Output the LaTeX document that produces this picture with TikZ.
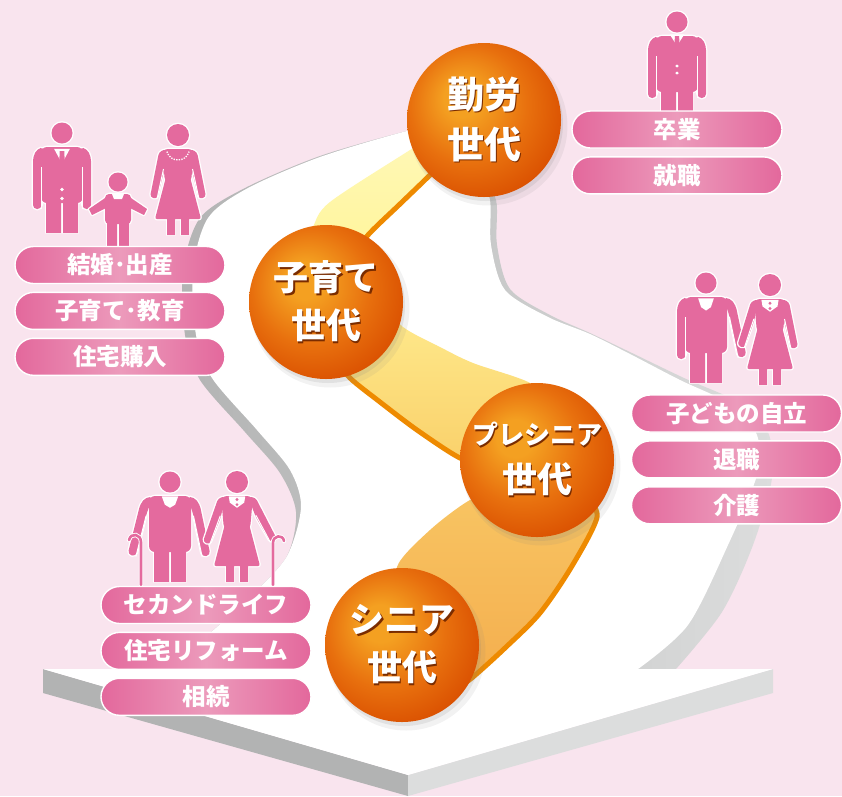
\documentclass[tikz,border=0pt]{standalone}
\usepackage{fontspec}
\newfontfamily\jp{Noto Sans CJK JP}
\usetikzlibrary{positioning,shadows}

\definecolor{bgpink}{HTML}{F9E4EE}
\definecolor{figpink}{HTML}{E46A9E}
\definecolor{tagedge}{HTML}{E3689C}
\definecolor{tagmid}{HTML}{EC9ABB}
\definecolor{sidedark}{HTML}{B2B3B3}
\definecolor{sidelight}{HTML}{DCDDDD}
\definecolor{bandline}{HTML}{EE8A00}
\definecolor{bandpale}{HTML}{FFF59B}
\definecolor{bandtwotop}{HTML}{FFEB8E}
\definecolor{bandtwobot}{HTML}{F9D06A}
\definecolor{bandthreetop}{HTML}{F8C563}
\definecolor{bandthreebot}{HTML}{F4AD4D}
\definecolor{orbhi}{HTML}{F4A021}
\definecolor{orbmid}{HTML}{E8700E}
\definecolor{orblo}{HTML}{D94E00}
\definecolor{orbshade}{HTML}{7A2C00}

\pgfdeclareradialshading{orb}{\pgfpoint{-8bp}{8bp}}{color(0bp)=(orbhi); color(6bp)=(orbhi); color(19bp)=(orbmid); color(31bp)=(orblo); color(50bp)=(orblo)}

% white text with a dark offset copy behind it
\newcommand\engr[1]{\rlap{\kern1.8pt\raisebox{-1.8pt}{\textcolor{orbshade}{#1}}}#1}

\tikzset{
  orb/.style={circle, minimum size=154pt, inner sep=0pt, shade, shading=orb,
    drop shadow={shadow xshift=4pt, shadow yshift=-6pt, opacity=.10, shadow scale=1.03},
    drop shadow={shadow xshift=2pt, shadow yshift=-4pt, opacity=.15},
    text=white, align=center, font=\jp\bfseries\fontsize{35}{48}\selectfont},
  tag/.style={draw=white, line width=1.4pt, rounded corners=18.5pt,
    minimum width=210pt, minimum height=37pt, inner sep=0pt,
    left color=tagedge, right color=tagedge, middle color=tagmid,
    text=white, font=\jp\bfseries\fontsize{23.5}{25}\selectfont},
  figline/.style={draw=white, fill=white, line width=2.6pt, line join=round},
  figbody/.style={fill=figpink},
  cane/.style={draw=white, line width=.9pt, double=figpink, double distance=2.6pt, line cap=round},
  % #1, #2: swing of left and right arm
  pics/man/.style 2 args={code={
    \foreach \s in {figline,figbody}{
      \path[\s] (-16,60) rectangle (-1,100) (1,60) rectangle (16,100);
      \path[\s, rounded corners=6] (-21,14) -- (21,14) -- (21,70) -- (-21,70) -- cycle;
      \begin{scope}[rotate around={#1:(-21,20)}]
        \path[\s, rounded corners=4] (-18,14) -- (-25,16) -- (-29,24) -- (-29,76) -- (-20.5,76) -- (-20.5,30) -- cycle;
      \end{scope}
      \begin{scope}[rotate around={#2:(21,20)}]
        \path[\s, rounded corners=4] (18,14) -- (25,16) -- (29,24) -- (29,76) -- (20.5,76) -- (20.5,30) -- cycle;
      \end{scope}
      \path[\s] (0,0) circle (10.5);
    }
    \draw[white, line width=1pt, rotate around={#1:(-21,20)}] (-20.5,34) -- (-20.5,76);
    \draw[white, line width=1pt, rotate around={#2:(21,20)}] (20.5,34) -- (20.5,76);
  }},
  pics/woman/.style 2 args={code={
    \foreach \s in {figline,figbody}{
      \path[\s] (-11,80) rectangle (-3,100) (3,80) rectangle (11,100);
      \begin{scope}[rotate around={#1:(-14,18)}]
        \path[\s, rounded corners=3] (-12,14) -- (-19,17) -- (-28,62) -- (-21,64) -- (-14,36) -- cycle;
      \end{scope}
      \begin{scope}[rotate around={#2:(14,18)}]
        \path[\s, rounded corners=3] (12,14) -- (19,17) -- (28,62) -- (21,64) -- (14,36) -- cycle;
      \end{scope}
      \path[\s, rounded corners=2] (-12,42) -- (12,42) -- (23,84) -- (-23,84) -- cycle;
      \path[\s, rounded corners=6] (-16,14) -- (16,14) -- (13,48) -- (-13,48) -- cycle;
      \path[\s] (0,0) circle (11);
    }
    \draw[white, line width=1pt, rotate around={#1:(-14,18)}] (-14.5,34) -- (-21,64);
    \draw[white, line width=1pt, rotate around={#2:(14,18)}] (14.5,34) -- (21,64);
  }},
  pics/kid/.style={code={
    \foreach \s in {figline,figbody}{
      \path[\s] (-11,38) rectangle (-1,65) (1,38) rectangle (11,65);
      \path[\s] (-10,14) -- (-29,27) -- (-26,33) -- (-10,25) -- cycle
                (10,14) -- (29,27) -- (26,33) -- (10,25) -- cycle;
      \path[\s, rounded corners=4] (-13,12) -- (13,12) -- (13,42) -- (-13,42) -- cycle;
      \path[\s] (0,0) circle (9.5);
    }
    \fill[white] (-6,12) -- (6,12) -- (4,17) -- (-4,17) -- cycle;
  }},
}

\begin{document}
\begin{tikzpicture}[x=1pt, y=-1pt]
  \fill[bgpink] (0,0) rectangle (842,796);
  \useasboundingbox (0,0) rectangle (842,796);

  % road: grey edge first, white surface on top
  \path[left color=sidedark, right color=sidelight]
    plot[smooth] coordinates {(450,124) (407,131) (320,156) (245,188) (200,218) (183,270) (185,335) (200,380) (245,432) (280,473) (296,512) (287,556) (252,595) (210,633) (168,669)}
    -- plot[smooth] coordinates {(676,669) (722,612) (753,545) (772,478) (768,432) (740,403) (684,378) (632,353) (590,333) (550,315) (510,289) (497,245) (496,200) (478,170)} -- cycle;
  \fill[white]
    plot[smooth] coordinates {(450,124) (407,131) (320,157) (248,188) (208,218) (193,270) (196,335) (212,378) (257,430) (290,470) (301,507) (287,556) (252,595) (210,633) (168,669)}
    -- plot[smooth] coordinates {(638,669) (688,625) (728,545) (757,475) (757,435) (732,405) (680,380) (630,354) (590,334) (548,317) (505,290) (491,245) (490,200) (478,170)} -- cycle;

  % base plate
  \fill[sidedark] (43,669) -- (408,775) -- (408,796) -- (43,693) -- cycle;
  \fill[sidelight] (408,775) -- (773,669) -- (773,693) -- (408,796) -- cycle;
  \fill[white] (43,669) -- (773,669) -- (408,775) -- cycle;

  % ribbon between the stages
  \path[top color=bandpale!70!white, bottom color=bandpale]
    plot[smooth] coordinates {(448,126) (410,150) (330,202) (313,227) (305,250)}
    -- plot[smooth] coordinates {(352,258) (368,235) (400,204) (428,177) (455,150)} -- cycle;
  \draw[bandline, line width=5pt] plot[smooth] coordinates {(352,258) (368,235) (400,204) (428,177) (455,150)};
  \path[top color=bandtwotop, bottom color=bandtwobot]
    plot[smooth] coordinates {(380,300) (403,327) (440,347) (473,363) (530,383) (545,405)}
    -- plot[smooth] coordinates {(490,466) (460,458) (417,430) (380,402) (350,378) (335,358)} -- cycle;
  \draw[bandline, line width=5pt] plot[smooth] coordinates {(490,466) (460,458) (417,430) (380,402) (350,378) (335,358)};
  \path[top color=bandthreetop, bottom color=bandthreebot]
    plot[smooth] coordinates {(505,488) (470,500) (430,530) (397,567) (410,600)}
    -- plot[smooth] coordinates {(455,690) (473,677) (505,648) (540,613) (572,566) (597,517) (585,495)} -- cycle;
  \draw[bandline, line width=5pt] plot[smooth] coordinates {(455,690) (473,677) (505,648) (540,613) (572,566) (597,517) (585,495)};

  % stages
  \node[orb, font=\jp\bfseries\fontsize{37}{50}\selectfont] (kinrou) at (484,120) {\engr{勤労}\\\engr{世代}};
  \node[orb] (kosodate) at (326,302) {\engr{子育て}\\\engr{世代}};
  \node[orb] (presenior) at (537,460) {{\fontsize{26}{34}\selectfont\engr{プレシニア}}\\\engr{世代}};
  \node[orb] (senior) at (402,645) {\engr{シニア}\\\engr{世代}};

  % people
  \begin{scope}[shift={(677,22)}, xscale=1.05, yscale=.88]
    \pic {man={0}{0}};
    \fill[white] (-7,14) -- (0,27) -- (7,14) -- cycle;
    \fill[figpink] (-2,16) -- (2,16) -- (3,38) -- (0,42) -- (-3,38) -- cycle;
    \fill[white] (0,50) circle (1.7) (0,58) circle (1.7);
  \end{scope}
  \begin{scope}[shift={(62,133)}, scale=1.13]
    \pic {man={0}{0}};
    \fill[white] (-7,14) -- (0,27) -- (7,14) -- cycle;
    \fill[figpink] (-2,16) -- (2,16) -- (3,38) -- (0,42) -- (-3,38) -- cycle;
    \fill[white] (0,50) circle (1.7) (0,58) circle (1.7);
  \end{scope}
  \begin{scope}[shift={(118,182)}]
    \pic {kid};
  \end{scope}
  \begin{scope}[shift={(178,135)}, scale=1.11]
    \pic {woman={0}{0}};
    \draw[white, line width=1.3pt, dash pattern=on 1.3pt off 1.3pt] (-10,15) .. controls (-7,25) and (7,25) .. (10,15);
  \end{scope}
  \begin{scope}[shift={(706,283)}, xscale=.98, yscale=1.1]
    \pic {man={0}{12}};
    \fill[white] (-8,14) -- (8,14) -- (5,22) -- (0,25) -- (-5,22) -- cycle;
  \end{scope}
  \begin{scope}[shift={(770,285)}, scale=1.07]
    \pic {woman={-6}{0}};
    \fill[white] (-8,14) -- (8,14) -- (7,20) -- (0,25) -- (-7,20) -- cycle;
    \fill[figpink] (0,17) circle (1.5) (0,22) circle (1.5);
  \end{scope}
  \begin{scope}[shift={(170,482)}, scale=1.03]
    \pic {man={-14}{12}};
    \fill[white] (-8,14) -- (8,14) -- (5,22) -- (0,25) -- (-5,22) -- cycle;
  \end{scope}
  \begin{scope}[shift={(237,482)}, scale=1.03]
    \pic {woman={-8}{16}};
    \fill[white] (-8,14) -- (8,14) -- (7,20) -- (0,25) -- (-7,20) -- cycle;
    \fill[figpink] (0,17) circle (1.5) (0,22) circle (1.5);
  \end{scope}
  \draw[cane] (141,585) -- (141,542) .. controls (141,534) and (131,532) .. (129,540);
  \draw[cane] (273,585) -- (273,543) .. controls (273,535) and (283,534) .. (284,541);

  % life events
  \node[tag] (sotsugyo) at (677,129.5) {卒業};
  \node[tag, below=7.5pt of sotsugyo] (shushoku) {就職};
  \node[tag] (kekkon) at (120,265) {結婚･出産};
  \node[tag, below=7.5pt of kekkon] (kyoiku) {子育て･教育};
  \node[tag, below=7.5pt of kyoiku] (jutaku) {住宅購入};
  \node[tag] (jiritsu) at (736.5,413.5) {子どもの自立};
  \node[tag, below=7.5pt of jiritsu] (taishoku) {退職};
  \node[tag, below=7.5pt of taishoku] (kaigo) {介護};
  \node[tag] (second) at (206,605) {セカンドライフ};
  \node[tag, below=7.5pt of second] (reform) {住宅リフォーム};
  \node[tag, below=7.5pt of reform] (sozoku) {相続};
\end{tikzpicture}
\end{document}
